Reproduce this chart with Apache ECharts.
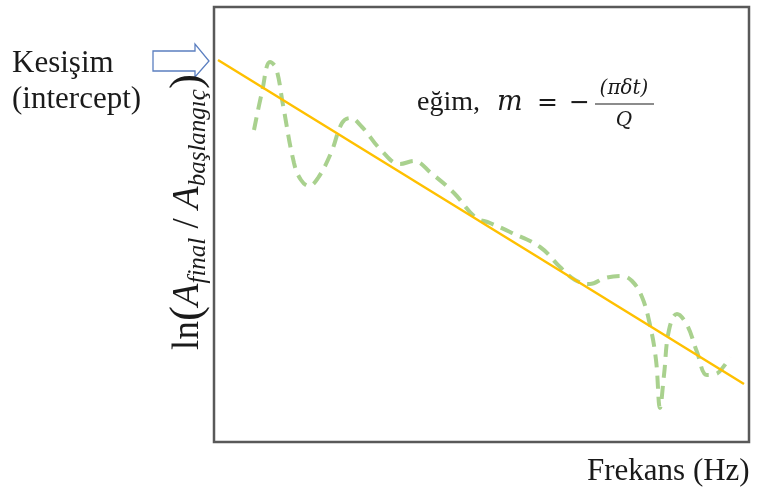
<!DOCTYPE html>
<html>
<head>
<meta charset="utf-8">
<script src="https://cdn.jsdelivr.net/npm/echarts@6/dist/echarts.min.js"></script>
<style>
  html, body { margin: 0; padding: 0; background: #fff; }
  #chart { width: 757px; height: 493px; }
</style>
</head>
<body>
<div id="chart"></div>
<script>
// values (arbitrary units, no ticks shown)
const fitX = [4, 530]
const fitY = [382, 58]

const dataX = [40, 48, 56, 62, 69, 80, 87, 95, 104, 117, 128, 136, 148, 167, 186, 200, 217, 240, 261, 276, 296, 326, 346, 361, 376, 391, 408, 418, 428, 436, 442, 446, 450, 455, 463, 473, 483, 493, 502, 510, 516]
const dataY = [312, 350, 380, 374, 337, 279, 262, 256, 264, 289, 319, 324, 315, 292, 278, 281, 269, 249, 225, 219, 210, 195, 175, 162, 158, 164, 166, 161, 145, 117, 82, 34, 67, 112, 128, 117, 90, 67, 68, 76, 85]

const serif = 'Liberation Serif'
const ink = '#1a1a1a'

const chart = echarts.init(document.getElementById('chart'))

const option = {
  animation: false,
  grid: {
    left: 214, top: 7, width: 535, height: 435,
    show: true,
    borderColor: '#595959',
    borderWidth: 2.5,
    backgroundColor: 'transparent'
  },
  xAxis: { type: 'value', min: 0, max: 535, show: false },
  yAxis: { type: 'value', min: 0, max: 435, show: false },
  series: [
    {
      name: 'fit',
      type: 'line',
      data: fitX.map((x, i) => [x, fitY[i]]),
      showSymbol: false,
      lineStyle: { color: '#FFC000', width: 2.5 },
      z: 3
    },
    {
      name: 'data',
      type: 'line',
      smooth: 0.4,
      data: dataX.map((x, i) => [x, dataY[i]]),
      showSymbol: false,
      lineStyle: { color: '#A9D18E', width: 4, type: [13, 8] },
      z: 2
    }
  ],
  graphic: [
    {
      type: 'text', x: 12, y: 64,
      style: { text: 'Kesişim', font: '31px ' + serif, fill: ink, verticalAlign: 'middle' }
    },
    {
      type: 'text', x: 12, y: 100,
      style: { text: '(intercept)', font: '31px ' + serif, fill: ink, verticalAlign: 'middle' }
    },
    {
      type: 'polygon',
      shape: { points: [[153, 51], [195, 51], [195, 44], [209, 61], [195, 77], [195, 71], [153, 71]] },
      style: { fill: '#fff', stroke: '#5B7FC0', lineWidth: 1.3 }
    },
    {
      // y axis title, rotated
      type: 'text',
      x: 188, y: 212,
      rotation: Math.PI / 2,
      style: {
        text: '{n|ln}{p|(}{a|A}{s|final}{n| / }{a|A}{s|başlangıç}{p|)}',
        align: 'center',
        verticalAlign: 'middle',
        fill: ink,
        rich: {
          n: { fontFamily: serif, fontSize: 37, fill: ink },
          p: { fontFamily: serif, fontSize: 45, fill: ink },
          a: { fontFamily: serif, fontStyle: 'italic', fontSize: 37, fill: ink },
          s: { fontFamily: serif, fontStyle: 'italic', fontSize: 25, fill: ink, verticalAlign: 'bottom', padding: [14, 0, 0, 0] }
        }
      }
    },
    {
      type: 'text', x: 417, y: 103,
      style: { text: 'eğim,', font: '28px ' + serif, fill: ink, verticalAlign: 'middle' }
    },
    {
      type: 'text', x: 497, y: 103,
      style: { text: 'm', font: 'italic 27px DejaVu Serif', fill: ink, verticalAlign: 'middle' }
    },
    {
      type: 'text', x: 537, y: 103,
      style: { text: '=', font: '25px DejaVu Sans', fill: ink, verticalAlign: 'middle' }
    },
    {
      type: 'text', x: 569, y: 103,
      style: { text: '−', font: '25px DejaVu Sans', fill: ink, verticalAlign: 'middle' }
    },
    {
      type: 'text', x: 624, y: 89,
      style: { text: '(πδt)', font: 'italic 20px DejaVu Serif', fill: ink, align: 'center', verticalAlign: 'middle' }
    },
    {
      type: 'line',
      shape: { x1: 595, y1: 104, x2: 654, y2: 104 },
      style: { stroke: ink, lineWidth: 1.2 }
    },
    {
      type: 'text', x: 624, y: 121,
      style: { text: 'Q', font: 'italic 20px DejaVu Serif', fill: ink, align: 'center', verticalAlign: 'middle' }
    },
    {
      type: 'text', x: 587, y: 472,
      style: { text: 'Frekans (Hz)', font: '31px ' + serif, fill: ink, verticalAlign: 'middle' }
    }
  ]
}

chart.setOption(option)
</script>
</body>
</html>
